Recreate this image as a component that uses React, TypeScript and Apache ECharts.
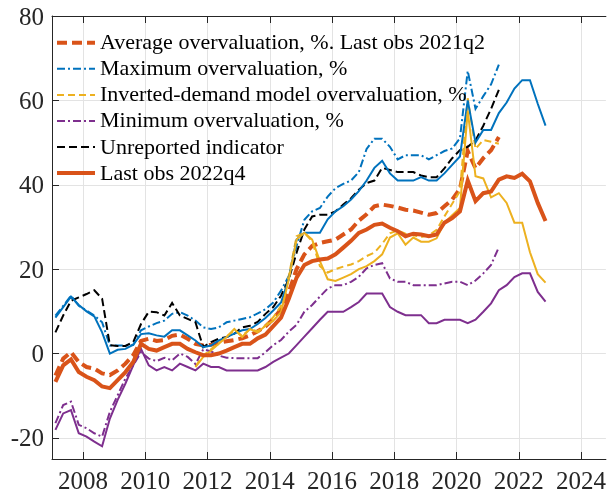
import React, { useEffect, useRef } from "react";
import * as echarts from "echarts";

// Quarterly categories 2007q1 .. 2022q4
const firstYear = 2007;
const lastYear = 2022;
const quarters: string[] = [];
for (let y = firstYear; y <= lastYear; y++) for (let q = 1; q <= 4; q++) quarters.push(`${y}q${q}`);

const xTicks = [2008, 2010, 2012, 2014, 2016, 2018, 2020, 2022, 2024];
const yTicks = [-20, 0, 20, 40, 60, 80];

// Vintage ending 2021q2 (dashed)
const avgDashed = [
  -5.2, -1.2, 0.3, -2, -3.2, -3.6, -4.7, -5.1, -4, -2.4,
  -0.4, 3, 3.5, 3, 3.2, 4.2, 4.5, 3.5, 2.3, 1.9,
  2.1, 2.5, 2.9, 3.2, 3.6, 4.3, 5.3, 6.4, 8.2, 10.5,
  14.5, 20, 23.5, 25.5, 26.2, 26.6, 27, 28.2, 29.4, 31.5,
  33, 34.9, 35.3, 35, 34.6, 34.1, 33.9, 33.4, 32.9, 33.3,
  34.9, 36.5, 39, 48, 43.9, 46.3, 48.2, 51.3,
];
const maxDashed = [
  9, 11.3, 13.7, 11.3, 10.2, 9, 7.4, 1.9, 1.9, 1.9,
  2, 5.5, 6.4, 7.2, 7.8, 9.4, 9.8, 9, 7.8, 6.2,
  5.8, 6.2, 7.4, 7.8, 8.2, 8.6, 9.5, 10.5, 12.1, 14.9,
  18.4, 25.5, 31.7, 33.7, 34.5, 37.2, 39.2, 40.2, 41, 43,
  48.5, 50.9, 50.9, 49, 46, 47, 47, 47, 46, 47,
  48, 48.6, 51, 67, 58, 61, 63.8, 68.5,
];
const invDashed: (number | null)[] = [
  null, null, null, null, null, null, null, null, null, null,
  null, null, null, null, null, null, null, null, -3, -0.5,
  1, 2.5, 4, 5.5, 4.2, 5.8, 5.3, 6.6, 8.6, 11.3,
  18.4, 27.8, 28.6, 26.6, 20.7, 19.2, 20, 20.6, 21.1, 21.9,
  23.1, 23.9, 26, 28.5, 29.2, 28.4, 28, 27.6, 28, 29.3,
  32.5, 35.5, 38.5, 60.5, 48.5, 50.6, 50.2, 49.7,
];
const minDashed = [
  -16.5, -12.2, -11.4, -16.9, -17.7, -18.9, -19.7, -13.8, -9.9, -5.9,
  -2.8, 0.3, -1.2, -1.8, -1, -1.6, 0, -0.8, -2.5, 1,
  0.5, -0.5, -1, -1.1, -1.1, -1.1, -1.1, 0.3, 2, 3.2,
  5.2, 6.8, 9.9, 11.5, 13.5, 15.4, 16.2, 16.2, 17, 18.2,
  20.2, 21, 21.4, 17.8, 17, 17, 16.2, 16.2, 16.2, 16.2,
  16.6, 17, 17, 16.2, 17.3, 19, 21, 25.2,
];
const unrepDashed = [
  5, 9, 12.5, 13.3, 14.1, 15, 13, 2, 1.8, 1.8,
  2.7, 7, 9.9, 9.8, 9, 12, 9, 8.2, 7.4, 1.5,
  2.7, 3.5, 3.9, 4.7, 6.2, 6.6, 7.5, 9.4, 11, 13.7,
  17.6, 23.9, 29.4, 32.5, 32.9, 32.9, 33.7, 35.3, 36.8, 38.8,
  40.4, 41, 44, 43.5, 43, 43, 43, 42.2, 41.8, 41.8,
  43.9, 46.3, 48.2, 49, 50.5, 54, 58, 62.5,
];

// Vintage ending 2022q4 (solid)
const avgSolid = [
  -6.7, -2.8, -1.4, -4.4, -5.5, -6.3, -7.8, -8.2, -6.3, -4.4,
  -2, 2.3, 1.1, 0.7, 1.5, 2.3, 2.3, 1.1, 0.3, -0.4,
  -0.4, 0, 0.7, 1.5, 2.3, 2.3, 3.6, 4.5, 6.5, 8.5,
  13, 18, 21, 21.9, 22.3, 22.5, 23.5, 25.1, 26.7, 28.6,
  29.4, 30.5, 30.8, 29.8, 29, 27.8, 28.4, 28.2, 27.8, 28.2,
  31, 32.1, 33.7, 41, 36.1, 38, 38.4, 41.2, 42, 41.6,
  42.6, 40.8, 35.7, 31.4,
];
const maxSolid = [
  8.5, 11, 13.5, 11.5, 10, 8.8, 5, 0, 0.9, 1.1,
  2.1, 4.6, 4.8, 4.3, 4, 5.5, 5.5, 4.3, 3.1, 1.5,
  1.9, 3.1, 3.9, 4.7, 5.5, 5.8, 7, 8.4, 10.2, 12.1,
  17.6, 27, 28.6, 28.6, 28.6, 31.8, 33.7, 34.9, 36.5, 38.5,
  41, 44, 45.7, 42.7, 41, 41, 41, 41.8, 41, 41,
  42.7, 44.7, 46.7, 60, 50, 53, 53, 57, 59.5, 62.8,
  64.8, 64.8, 59.2, 54,
];
const invSolid: (number | null)[] = [
  null, null, null, null, null, null, null, null, null, null,
  null, null, null, null, null, null, null, null, -3.2, -0.8,
  0.7, 2.3, 3.9, 5.8, 3.9, 5.8, 5, 6.6, 7.8, 9.8,
  17.6, 27, 28.6, 27, 21.9, 17.6, 17.2, 18, 18.8, 20,
  20.7, 21.9, 23.5, 27.5, 28.5, 25.8, 27.5, 26.5, 26.5, 27.3,
  31, 32.8, 34.5, 57.5, 42, 41.5, 37, 38, 35.7, 31,
  31, 24, 18.8, 16.8,
];
const minSolid = [
  -18.1, -14.2, -13.4, -18.9, -19.7, -20.9, -22, -15.4, -11, -7.1,
  -2.8, 1.1, -2.8, -4, -3.2, -4, -2.4, -3.2, -4, -2.4,
  -3.2, -3.2, -4, -4, -4, -4, -4, -3.2, -2, -1,
  0, 2, 4, 6, 8, 9.9, 9.9, 9.9, 11, 12.2,
  14.2, 14.2, 14.2, 11, 9.9, 9.1, 9.1, 9.1, 7.2, 7.2,
  8, 8, 8, 7.2, 8, 9.9, 11.9, 15, 16.2, 18.1,
  19, 19, 14.6, 12.3,
];

const BLUE = "#0072BD";
const ORANGE = "#D95319";
const YELLOW = "#EDB120";
const PURPLE = "#7E2F8E";
const BLACK = "#000000";
const AXIS = "#262626";
const FONT = "Liberation Serif";

const DASH_ORANGE = [10, 5];
const DASH_DOT = [8, 3, 2, 3];
const DASH_YELLOW = [7, 4];
const DASH_BLACK = [8, 4];

function qToX(label: string): number {
  const [y, q] = label.split("q").map(Number);
  return y + (q - 1) / 4 + 0.11;
}

function toData(vals: (number | null)[]) {
  const out: [number, number][] = [];
  vals.forEach((v, i) => {
    if (v !== null && v !== undefined) out.push([qToX(quarters[i]), v]);
  });
  return out;
}

function lineSeries(name: string, vals: (number | null)[], color: string, width: number, dash: any, z: number) {
  return {
    name,
    type: "line",
    data: toData(vals),
    symbol: "none",
    showSymbol: false,
    silent: true,
    z,
    lineStyle: { color, width, type: dash, cap: "butt", join: "miter" },
  };
}

const legendItems = [
  { text: "Average overvaluation, %. Last obs 2021q2", color: ORANGE, width: 4, dash: DASH_ORANGE },
  { text: "Maximum overvaluation, %", color: BLUE, width: 2, dash: DASH_DOT },
  { text: "Inverted-demand model overvaluation, %", color: YELLOW, width: 2, dash: DASH_YELLOW },
  { text: "Minimum overvaluation, %", color: PURPLE, width: 2, dash: DASH_DOT },
  { text: "Unreported indicator", color: BLACK, width: 2, dash: DASH_BLACK },
  { text: "Last obs 2022q4", color: ORANGE, width: 4, dash: null as number[] | null },
];

export default function App() {
  const ref = useRef<HTMLDivElement>(null);
  useEffect(() => {
    if (!ref.current) return;
    const chart = echarts.init(ref.current, undefined, { renderer: "svg" });

    const graphic: any[] = [];
    legendItems.forEach((it, k) => {
      const yc = 42.8 + 26.05 * k;
      graphic.push({
        type: "line",
        z: 100,
        shape: { x1: 57, y1: yc, x2: 95, y2: yc },
        style: { stroke: it.color, lineWidth: it.width, lineDash: it.dash || null },
      });
      graphic.push({
        type: "text",
        z: 100,
        x: 100,
        y: yc - 12,
        style: {
          text: it.text,
          font: "22px 'Liberation Serif'",
          fill: "#000000",
        },
      });
    });

    chart.setOption({
      animation: false,
      textStyle: { fontFamily: FONT },
      grid: { left: 52, top: 16, width: 557.7, height: 445.7, containLabel: false },
      xAxis: [
        {
          type: "value",
          position: "bottom",
          min: 2007,
          max: 2024.8,
          axisLine: { show: true, onZero: false, lineStyle: { color: AXIS, width: 1 } },
          axisTick: { show: true, inside: true, length: 7, customValues: xTicks, lineStyle: { color: AXIS, width: 1 } },
          axisLabel: {
            show: true,
            customValues: xTicks,
            fontFamily: FONT,
            fontSize: 25,
            color: AXIS,
            margin: 9,
            formatter: (v: number) => String(Math.round(v)),
          },
          splitLine: { show: true, lineStyle: { color: "#e3e3e3", width: 1 } },
        },
        {
          type: "value",
          position: "top",
          min: 2007,
          max: 2024.8,
          axisLine: { show: true, onZero: false, lineStyle: { color: AXIS, width: 1 } },
          axisTick: { show: true, inside: true, length: 7, customValues: xTicks, lineStyle: { color: AXIS, width: 1 } },
          axisLabel: { show: false },
          splitLine: { show: false },
        },
      ],
      yAxis: {
        type: "value",
        min: -25,
        max: 80,
        axisLine: { show: true, onZero: false, lineStyle: { color: AXIS, width: 1 } },
        axisTick: { show: true, inside: true, length: 7, customValues: yTicks, lineStyle: { color: AXIS, width: 1 } },
        axisLabel: {
          show: true,
          customValues: yTicks,
          fontFamily: FONT,
          fontSize: 25,
          color: AXIS,
          margin: 8,
          formatter: (v: number) => String(Math.round(v)),
        },
        splitLine: { show: true, lineStyle: { color: "#e3e3e3", width: 1 } },
      },
      series: [
        lineSeries("Average overvaluation, %. Last obs 2021q2", avgDashed, ORANGE, 4, DASH_ORANGE, 2),
        lineSeries("Maximum overvaluation, %", maxDashed, BLUE, 2, DASH_DOT, 2),
        lineSeries("Inverted-demand model overvaluation, %", invDashed, YELLOW, 2, DASH_YELLOW, 2),
        lineSeries("Minimum overvaluation, %", minDashed, PURPLE, 2, DASH_DOT, 2),
        lineSeries("Unreported indicator", unrepDashed, BLACK, 2, DASH_BLACK, 2),
        lineSeries("Maximum overvaluation, % (2022q4)", maxSolid, BLUE, 2, "solid", 3),
        lineSeries("Inverted-demand model overvaluation, % (2022q4)", invSolid, YELLOW, 2, "solid", 3),
        lineSeries("Minimum overvaluation, % (2022q4)", minSolid, PURPLE, 2, "solid", 3),
        lineSeries("Last obs 2022q4", avgSolid, ORANGE, 4, "solid", 4),
      ],
      graphic,
    });
    return () => chart.dispose();
  }, []);
  return <div ref={ref} style={{ position: "fixed", left: 0, top: 0, width: 609, height: 493 }} />;
}
